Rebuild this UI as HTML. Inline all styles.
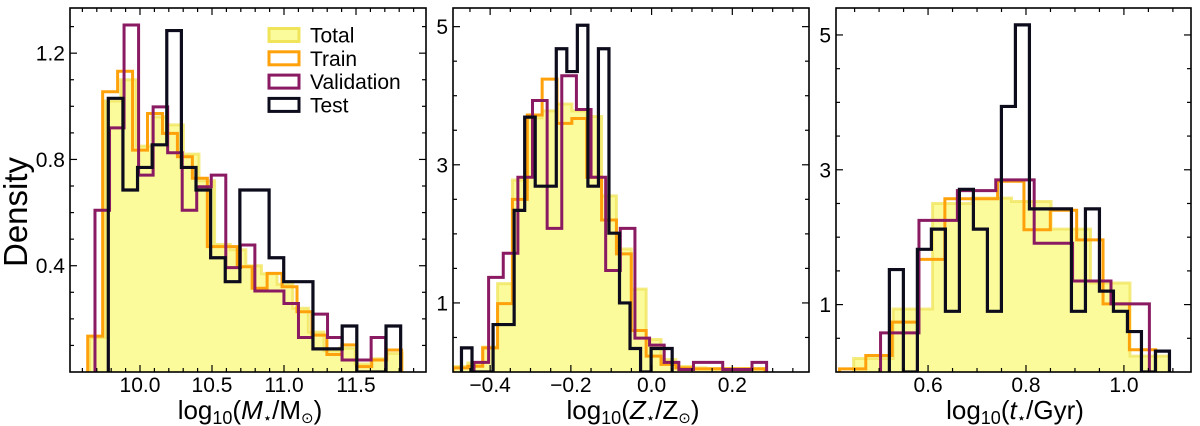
<!DOCTYPE html>
<html><head><meta charset="utf-8"><style>
html,body{margin:0;padding:0;background:#fff;}
svg{display:block;font-family:"Liberation Sans","DejaVu Sans",sans-serif;}
</style></head><body>
<svg id="fig" width="1200" height="426" viewBox="0 0 1200 426" xmlns="http://www.w3.org/2000/svg"></svg>
<script>
// ---- Panel 1: log10 stellar mass ----
const p1TotalRange=[9.65,11.82];
const p1TotalHeights=[0.13,1.02,1.10,0.85,0.96,0.93,0.82,0.72,0.48,0.46,0.40,0.37,0.33,0.24,0.15,0.08,0.09,0.03,0.05,0.07];
const p1TrainRange=[9.637,11.817];
const p1TrainHeights=[0.135,1.055,1.132,0.835,0.973,0.898,0.81,0.729,0.472,0.472,0.396,0.315,0.371,0.321,0.227,0.139,0.066,0.102,0.02,0.045,0.083];
const p1ValRange=[9.6875,11.706];
const p1ValHeights=[0.609,0.919,1.306,0.741,0.998,0.825,0.609,0.697,0.741,0.393,0.478,0.305,0.305,0.258,0.130,0.218,0.130,0.045,0.045,0.130];
const p1TestRange=[9.78,11.81];
const p1TestHeights=[1.03,0.685,0.77,0.855,1.285,0.77,0.685,0.43,0.34,0.685,0.685,0.43,0.34,0.34,0.087,0.087,0.173,0,0,0.173];
// ---- Panel 2: log10 metallicity ----
const p2TotalRange=[-0.492,0.281];
const p2TotalHeights=[0.08,0.13,0.36,1.28,2.78,3.68,3.78,3.88,3.78,3.70,2.55,1.78,1.2,0.47,0.18,0.08,0.06,0.05,0.05,0.05,0.05];
const p2TrainRange=[-0.492,0.281];
const p2TrainHeights=[0.06,0.084,0.35,0.99,2.50,3.72,4.24,3.60,3.67,2.82,2.20,1.71,0.60,0.23,0.11,0.06,0.045,0.045,0.045,0.045,0.045];
const p2ValRange=[-0.44,0.285];
const p2ValHeights=[0.14,1.37,1.72,2.82,3.93,2.08,4.29,3.80,2.82,1.47,2.08,0.49,0.39,0.14,0.036,0.14,0.14,0.036,0.036,0.14];
const p2TestRange=[-0.471,0.051];
const p2TestHeights=[0.349,0,0,0.687,0.687,2.34,3.69,2.69,2.69,4.68,4.35,5.02,2.69,4.68,2.01,1.0,0.34,0,0.34,0.34];
// ---- Panel 3: log10 age ----
const p3TotalRange=[0.448,1.093];
const p3TotalHeights=[0.2,0.935,2.50,2.58,2.53,2.12,1.32,0.235];
const p3TrainRange=[0.419,1.065];
const p3TrainHeights=[0.047,0.245,0.74,1.67,2.57,2.57,2.83,2.11,2.40,1.96,1.01,0.33];
const p3ValRange=[0.503,1.052];
const p3ValHeights=[0.58,2.25,2.69,2.85,1.91,1.35,1.01];
const p3TestRange=[0.521,1.093];
const p3TestHeights=[1.52,0,1.82,2.12,0.90,2.71,2.12,0.90,3.94,5.15,2.42,2.42,2.42,0.90,2.42,1.20,0.90,0.60,0,0.31];
// tick labels
const p1XTicks=[10.0,10.5,11.0,11.5];
const p1XTickLabels=["10.0","10.5","11.0","11.5"];
const p1YTicks=[0.4,0.8,1.2];
const p1YTickLabels=["0.4","0.8","1.2"];
const p2XTicks=[-0.4,-0.2,0.0,0.2];
const p2XTickLabels=["\u22120.4","\u22120.2","0.0","0.2"];
const p2YTicks=[1,3,5];
const p2YTickLabels=["1","3","5"];
const p3XTicks=[0.6,0.8,1.0];
const p3XTickLabels=["0.6","0.8","1.0"];
const p3YTicks=[1,3,5];
const p3YTickLabels=["1","3","5"];

const NS="http://www.w3.org/2000/svg";
const svg=document.getElementById('fig');
function mk(tag,attrs,parent){const e=document.createElementNS(NS,tag);for(const k in attrs)e.setAttribute(k,attrs[k]);(parent||svg).appendChild(e);return e;}

const panels=[
 {id:'mass',L:70,R:426,T:8,B:372,xlim:[9.514,11.986],ylim:[0,1.37],xminor:0.1,yminor:0.1,
  series:[p1TotalRange,p1TotalHeights,p1TrainRange,p1TrainHeights,p1ValRange,p1ValHeights,p1TestRange,p1TestHeights],
  xt:p1XTicks,xl:p1XTickLabels,yt:p1YTicks,yl:p1YTickLabels},
 {id:'metallicity',L:453,R:809,T:8,B:372,xlim:[-0.492,0.39],ylim:[0,5.27],xminor:0.05,yminor:0.5,
  series:[p2TotalRange,p2TotalHeights,p2TrainRange,p2TrainHeights,p2ValRange,p2ValHeights,p2TestRange,p2TestHeights],
  xt:p2XTicks,xl:p2XTickLabels,yt:p2YTicks,yl:p2YTickLabels},
 {id:'age',L:836,R:1191,T:8,B:372,xlim:[0.412,1.137],ylim:[0,5.40],xminor:0.05,yminor:0.5,
  series:[p3TotalRange,p3TotalHeights,p3TrainRange,p3TrainHeights,p3ValRange,p3ValHeights,p3TestRange,p3TestHeights],
  xt:p3XTicks,xl:p3XTickLabels,yt:p3YTicks,yl:p3YTickLabels}
];
const styles=[
 {name:'total',stroke:'#f0e45a',op:0.75,w:3},
 {name:'train',stroke:'#ffa10a',op:1,w:3},
 {name:'validation',stroke:'#8a1a62',op:1,w:3},
 {name:'test',stroke:'#0c0c1c',op:1,w:3.2}
];

panels.forEach(p=>{
  const g=mk('g',{});
  
  
  const sx=v=>p.L+(v-p.xlim[0])/(p.xlim[1]-p.xlim[0])*(p.R-p.L);
  const sy=v=>p.B-(v-p.ylim[0])/(p.ylim[1]-p.ylim[0])*(p.B-p.T);
  const cp=mk('clipPath',{id:'clip-'+p.id},g);
  mk('rect',{x:p.L,y:p.T,width:p.R-p.L,height:p.B-p.T},cp);
  const plot=mk('g',{'clip-path':'url(#clip-'+p.id+')'},g);
  for(let s=0;s<4;s++){
    const rng=p.series[2*s],h=p.series[2*s+1],n=h.length,bw=(rng[1]-rng[0])/n;
    let d='M'+sx(rng[0])+','+sy(0);
    for(let i=0;i<n;i++){const a=rng[0]+i*bw,b=a+bw;d+=' L'+sx(a)+','+sy(h[i])+' L'+sx(b)+','+sy(h[i]);}
    d+=' L'+sx(rng[1])+','+sy(0);
    if(s===0){
      const f=mk('path',{d:d+' Z',fill:'#fbfb9c',stroke:'none'},plot);
      
      
    }
    const st=styles[s];
    const e=mk('path',{d:d,fill:'none',stroke:st.stroke,'stroke-width':st.w,'stroke-opacity':st.op,'stroke-linejoin':'miter'},plot);
    
    
  }
  const tk=mk('g',{stroke:'#000','stroke-width':1.2},g);
  
  
  const x0=Math.ceil(p.xlim[0]/p.xminor-1e-6);
  for(let k=x0;k*p.xminor<=p.xlim[1];k++){
    const v=k*p.xminor,x=sx(v);
    const major=p.xt.some(t=>Math.abs(t-v)<1e-6),len=major?7:4;
    mk('line',{x1:x,x2:x,y1:p.B,y2:p.B-len},tk);
    mk('line',{x1:x,x2:x,y1:p.T,y2:p.T+len},tk);
  }
  for(let k=1;k*p.yminor<=p.ylim[1];k++){
    const v=k*p.yminor,y=sy(v);
    const major=p.yt.some(t=>Math.abs(t-v)<1e-6),len=major?7:4;
    mk('line',{x1:p.L,x2:p.L+len,y1:y,y2:y},tk);
    mk('line',{x1:p.R,x2:p.R-len,y1:y,y2:y},tk);
  }
  p.xt.forEach((v,i)=>{
    const t=mk('text',{x:sx(v),y:392,'text-anchor':'middle','font-size':21,fill:'#000'},g);
    t.textContent=p.xl[i];
    
    
  });
  p.yt.forEach((v,i)=>{
    const t=mk('text',{x:p.L-5,y:sy(v)+7.5,'text-anchor':'end','font-size':21,fill:'#000'},g);
    t.textContent=p.yl[i];
    
    
  });
  const fr=mk('rect',{x:p.L,y:p.T,width:p.R-p.L,height:p.B-p.T,fill:'none',stroke:'#000','stroke-width':1.6},g);
  
  
});
</script>
<script>
(function(){
const NS="http://www.w3.org/2000/svg";const svg=document.getElementById('fig');
function t(x,y,size,html,name,extra){const e=document.createElementNS(NS,'text');e.setAttribute('x',x);e.setAttribute('y',y);e.setAttribute('font-size',size);e.setAttribute('text-anchor','middle');if(extra)for(const k in extra)e.setAttribute(k,extra[k]);e.innerHTML=html;svg.appendChild(e);return e;}
t(250,419,26,'log<tspan font-size="18" dy="5">10</tspan><tspan dy="-5">(</tspan><tspan font-style="italic">M</tspan><tspan font-size="15" dy="4">⋆</tspan><tspan dy="-4">/M</tspan><tspan font-size="15" dy="4">⊙</tspan><tspan dy="-4">)</tspan>','x-axis-title-mass');
t(633,419,26,'log<tspan font-size="18" dy="5">10</tspan><tspan dy="-5">(</tspan><tspan font-style="italic">Z</tspan><tspan font-size="15" dy="4">⋆</tspan><tspan dy="-4">/Z</tspan><tspan font-size="15" dy="4">⊙</tspan><tspan dy="-4">)</tspan>','x-axis-title-metallicity');
t(1015,419,26,'log<tspan font-size="18" dy="5">10</tspan><tspan dy="-5">(</tspan><tspan font-style="italic">t</tspan><tspan font-size="15" dy="4">⋆</tspan><tspan dy="-4">/Gyr)</tspan>','x-axis-title-age');
t(27,212,33,'Density','y-axis-title',{transform:'rotate(-90 27 212)'});
const items=[['Total','#f0e45a','#fbfb9c'],['Train','#ffa10a','none'],['Validation','#8a1a62','none'],['Test','#0c0c1c','none']];
items.forEach((it,i)=>{
  const y=35+i*23.3;
  const r=document.createElementNS(NS,'rect');
  r.setAttribute('x',269);r.setAttribute('y',y-6.5);r.setAttribute('width',30);r.setAttribute('height',13);
  r.setAttribute('fill',it[2]);r.setAttribute('stroke',it[1]);r.setAttribute('stroke-width',3);
  
  
  svg.appendChild(r);
  t(310,y+7.5,21,it[0],'legend-entry-'+it[0].toLowerCase(),{'text-anchor':'start'});
});
})();
</script>
</body></html>
